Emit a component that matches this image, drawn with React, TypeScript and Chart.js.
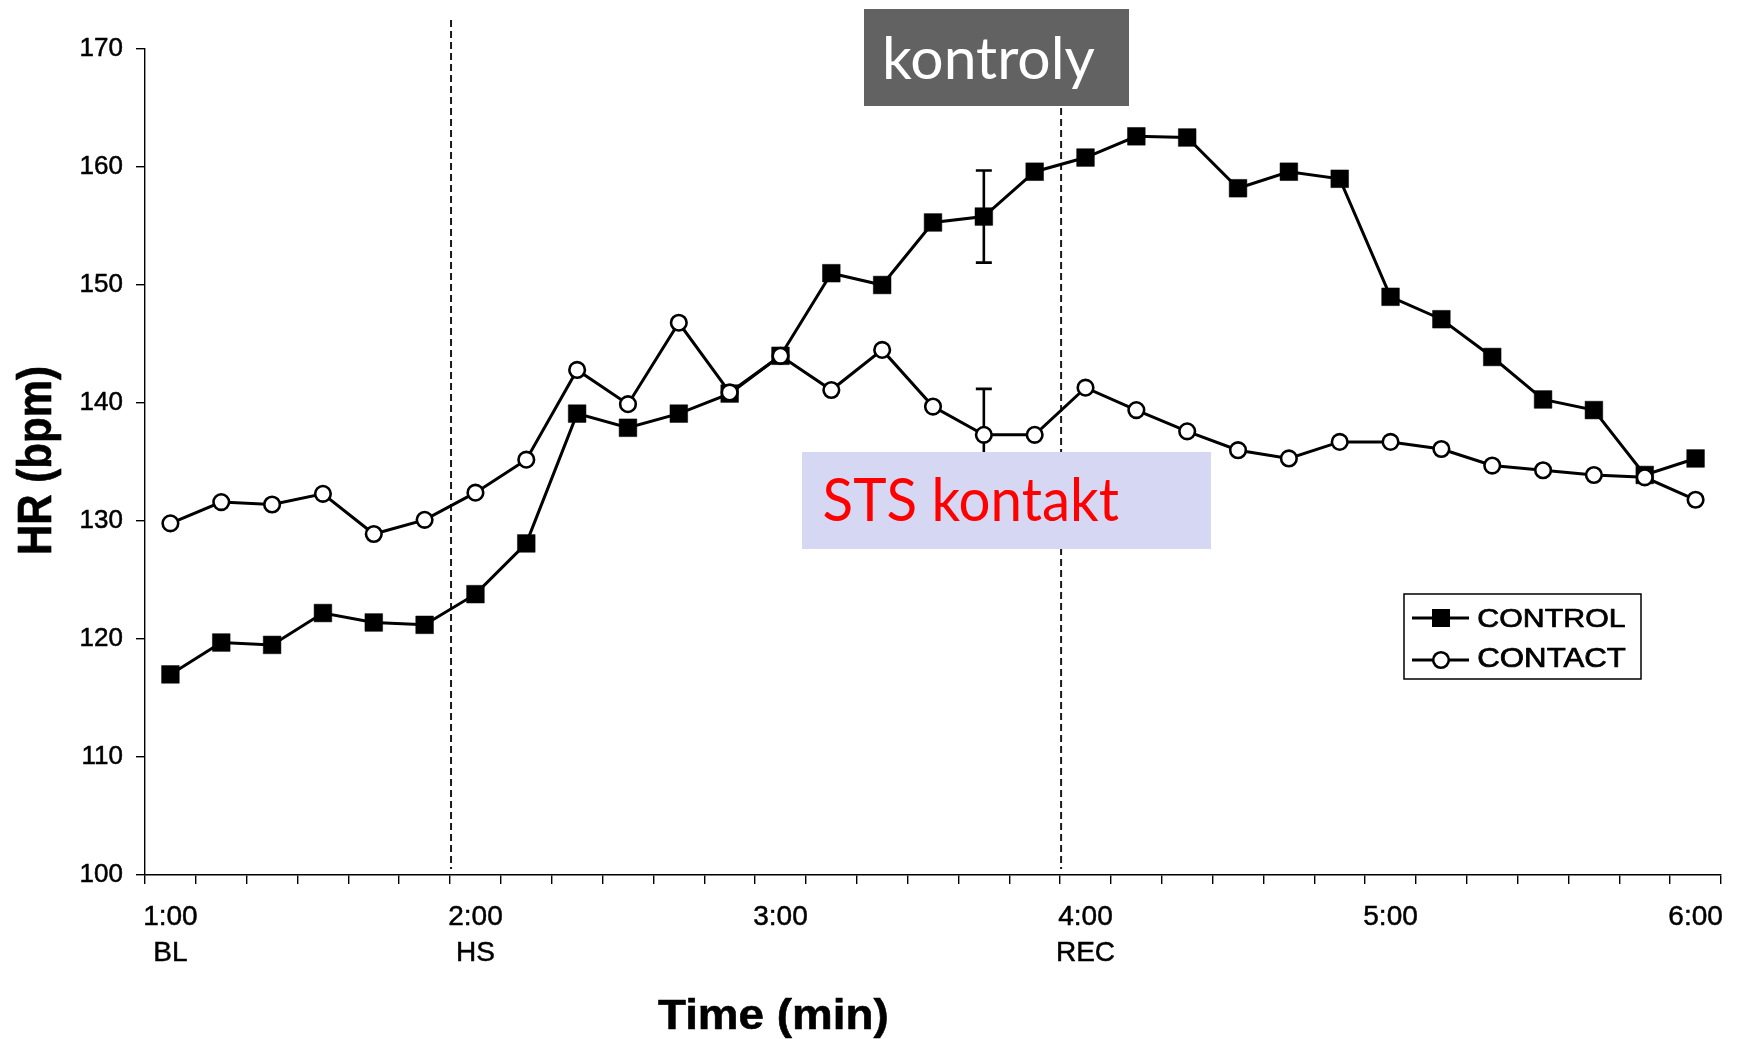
import React, { useEffect, useRef } from 'react';
import { Chart, registerables } from 'chart.js';

Chart.register(...registerables);

// ---------- data ----------
const categories = [
  '1:00', '1:10', '1:20', '1:30', '1:40', '1:50',
  '2:00', '2:10', '2:20', '2:30', '2:40', '2:50',
  '3:00', '3:10', '3:20', '3:30', '3:40', '3:50',
  '4:00', '4:10', '4:20', '4:30', '4:40', '4:50',
  '5:00', '5:10', '5:20', '5:30', '5:40', '5:50',
  '6:00',
];

const controlHR = [
  117.0, 119.7, 119.5, 122.2, 121.4, 121.2,
  123.8, 128.1, 139.1, 137.9, 139.1, 140.8,
  144.0, 151.0, 150.0, 155.3, 155.8, 159.6,
  160.8, 162.6, 162.5, 158.2, 159.6, 159.0,
  149.0, 147.1, 143.9, 140.3, 139.4, 133.9,
  135.3,
];

const contactHR = [
  129.8, 131.6, 131.4, 132.3, 128.9, 130.1,
  132.4, 135.2, 142.8, 139.9, 146.8, 140.9,
  144.0, 141.1, 144.5, 139.7, 137.3, 137.3,
  141.3, 139.4, 137.6, 136.0, 135.3, 136.7,
  136.7, 136.1, 134.7, 134.3, 133.9, 133.7,
  131.8,
];

const seriesNames = ['CONTROL', 'CONTACT'];
const majorTickLabels = ['1:00', '2:00', '3:00', '4:00', '5:00', '6:00'];
const phaseLabels = ['BL', 'HS', '', 'REC', '', ''];
const phaseBoundaries = ['2:00', '4:00'];
const errorCategory = '3:40';
const controlSEM = 3.9;
const contactSEM = 3.9;
const yMin = 100;
const yMax = 170;
const yStep = 10;
const xAxisTitle = 'Time (min)';
const yAxisTitle = 'HR (bpm)';
const topLabel = 'kontroly';
const middleLabel = 'STS kontakt';

// ---------- helpers ----------
function drawFittedText(
  ctx: CanvasRenderingContext2D,
  text: string,
  font: string,
  color: string,
  x: number,
  baseline: number,
  width: number,
  ascent: number,
  rotate = false,
  stroke = 0,
) {
  ctx.save();
  ctx.font = font;
  ctx.textAlign = 'left';
  ctx.textBaseline = 'alphabetic';
  const m = ctx.measureText(text);
  const inkW = m.actualBoundingBoxLeft + m.actualBoundingBoxRight;
  const sx = width / inkW;
  const sy = ascent / m.actualBoundingBoxAscent;
  ctx.translate(x, baseline);
  if (rotate) ctx.rotate(-Math.PI / 2);
  ctx.scale(sx, sy);
  ctx.fillStyle = color;
  ctx.fillText(text, m.actualBoundingBoxLeft, 0);
  if (stroke > 0) {
    ctx.strokeStyle = color;
    ctx.lineWidth = stroke;
    ctx.lineJoin = 'round';
    ctx.strokeText(text, m.actualBoundingBoxLeft, 0);
  }
  ctx.restore();
}

const figurePlugin = {
  id: 'figureExtras',
  beforeDatasetsDraw(chart: any) {
    const { ctx, scales } = chart;
    const x = scales.x;
    const y = scales.y;
    // dashed phase lines at category boundaries
    ctx.save();
    ctx.strokeStyle = '#1a1a1a';
    ctx.lineWidth = 2;
    ctx.setLineDash([7, 4]);
    phaseBoundaries.forEach((cat) => {
      const i = categories.indexOf(cat);
      const px = (x.getPixelForValue(i - 1) + x.getPixelForValue(i)) / 2 + 1;
      ctx.beginPath();
      ctx.moveTo(px, y.top - 29);
      ctx.lineTo(px, y.bottom - 6);
      ctx.stroke();
    });
    ctx.restore();

    // error bars
    const ei = categories.indexOf(errorCategory);
    const px = x.getPixelForValue(ei);
    const bars = [
      [controlHR[ei], controlSEM],
      [contactHR[ei], contactSEM],
    ];
    ctx.save();
    ctx.strokeStyle = '#000';
    ctx.lineWidth = 2.6;
    bars.forEach(([v, e]) => {
      const yt = y.getPixelForValue(v + e);
      const yb = y.getPixelForValue(v - e);
      ctx.beginPath();
      ctx.moveTo(px, yt);
      ctx.lineTo(px, yb);
      ctx.moveTo(px - 8, yt);
      ctx.lineTo(px + 8, yt);
      ctx.moveTo(px - 8, yb);
      ctx.lineTo(px + 8, yb);
      ctx.stroke();
    });
    ctx.restore();
  },
  afterDraw(chart: any) {
    const { ctx } = chart;
    const ds = chart.data.datasets;

    // legend
    ctx.save();
    ctx.strokeStyle = '#000';
    ctx.lineWidth = 1.5;
    ctx.fillStyle = '#fff';
    ctx.fillRect(1404, 594, 237, 85);
    ctx.strokeRect(1404, 594, 237, 85);
    const rows = [618, 660];
    ds.forEach((d: any, k: number) => {
      const ry = rows[k];
      ctx.strokeStyle = '#000';
      ctx.lineWidth = 2.8;
      ctx.setLineDash([]);
      ctx.beginPath();
      ctx.moveTo(1412, ry);
      ctx.lineTo(1469, ry);
      ctx.stroke();
      if (d.pointStyle === 'rect') {
        ctx.fillStyle = '#000';
        ctx.fillRect(1441 - 9, ry - 9, 18, 18);
      } else {
        ctx.fillStyle = '#fff';
        ctx.lineWidth = 2.6;
        ctx.beginPath();
        ctx.arc(1441, ry, 7.8, 0, Math.PI * 2);
        ctx.fill();
        ctx.stroke();
      }
    });
    ctx.restore();
    drawFittedText(ctx, ds[0].label, '30px "Liberation Sans", Arial, sans-serif', '#000', 1478.3, 626.7, 146.7, 17.7, false, 0.8);
    drawFittedText(ctx, ds[1].label, '30px "Liberation Sans", Arial, sans-serif', '#000', 1478.3, 666.7, 147.3, 18.2, false, 0.8);

    // axis titles
    drawFittedText(ctx, xAxisTitle, 'bold 45px "Liberation Sans", Arial, sans-serif', '#000', 658, 1028.5, 228.7, 30, false, 0.6);
    drawFittedText(ctx, yAxisTitle, 'bold 42px "Liberation Sans", Arial, sans-serif', '#000', 51, 553, 185, 35, true, 0.6);

    // annotation boxes
    ctx.save();
    ctx.fillStyle = '#626262';
    ctx.fillRect(864, 9, 265, 97);
    ctx.fillStyle = '#D5D7F3';
    ctx.fillRect(802, 452, 409, 97);
    ctx.restore();
    drawFittedText(ctx, topLabel, '60px Lato, "Open Sans", sans-serif', '#ffffff', 886, 79.3, 209, 42.6);
    drawFittedText(ctx, middleLabel, '60px Lato, "Open Sans", sans-serif', '#ff0000', 823.5, 521.4, 295, 43.5);
  },
};

export default function App() {
  const ref = useRef<HTMLCanvasElement>(null);

  useEffect(() => {
    if (!ref.current) return;
    const chart = new Chart(ref.current, {
      type: 'line',
      data: {
        labels: categories,
        datasets: [
          {
            label: seriesNames[0],
            data: controlHR,
            order: 1,
            borderColor: '#000',
            borderWidth: 3,
            tension: 0,
            pointStyle: 'rect',
            pointRadius: 12.5,
            pointBorderWidth: 0.5,
            pointBackgroundColor: '#000',
            pointBorderColor: '#000',
            fill: false,
          },
          {
            label: seriesNames[1],
            data: contactHR,
            order: 0,
            borderColor: '#000',
            borderWidth: 3,
            tension: 0,
            pointStyle: 'circle',
            pointRadius: 7.8,
            pointBorderWidth: 2.6,
            pointBackgroundColor: '#fff',
            pointBorderColor: '#000',
            fill: false,
          },
        ],
      },
      options: {
        responsive: false,
        animation: false,
        devicePixelRatio: 1,
        events: [],
        layout: { padding: { top: 49, right: 18, left: 0, bottom: 0 } },
        plugins: {
          legend: { display: false },
          tooltip: { enabled: false },
          title: { display: false },
        },
        scales: {
          x: {
            type: 'category',
            offset: true,
            grid: {
              offset: true,
              drawOnChartArea: false,
              drawTicks: true,
              tickLength: 9,
              color: '#000',
              lineWidth: 1.4,
            },
            border: { display: true, color: '#000', width: 1.4 },
            ticks: {
              autoSkip: false,
              maxRotation: 0,
              minRotation: 0,
              padding: 15,
              color: '#000',
              textStrokeColor: '#000',
              textStrokeWidth: 0.5,
              font: { family: '"Liberation Sans", Arial, sans-serif', size: 28, lineHeight: 1.3 },
              callback: (_v: any, i: number) => {
                const k = majorTickLabels.indexOf(categories[i]);
                if (k < 0) return '';
                return phaseLabels[k] ? [majorTickLabels[k], phaseLabels[k]] : majorTickLabels[k];
              },
            },
            afterFit: (s: any) => {
              s.height = 164;
              s.paddingLeft = 0;
              s.paddingRight = 0;
            },
          },
          y: {
            type: 'linear',
            min: yMin,
            max: yMax,
            grid: {
              drawOnChartArea: false,
              drawTicks: true,
              tickLength: 9,
              color: '#000',
              lineWidth: 1.4,
            },
            border: { display: true, color: '#000', width: 1.4 },
            ticks: {
              stepSize: yStep,
              padding: 13,
              color: '#000',
              textStrokeColor: '#000',
              textStrokeWidth: 0.5,
              font: { family: '"Liberation Sans", Arial, sans-serif', size: 26 },
            },
            afterFit: (s: any) => {
              s.width = 145;
              s.paddingTop = 0;
              s.paddingBottom = 0;
            },
          },
        },
      },
      plugins: [figurePlugin],
    } as any);
    return () => chart.destroy();
  }, []);

  return (
    <div style={{ position: 'fixed', left: 0, top: 0, width: 1739, height: 1039, background: '#fff' }}>
      <canvas ref={ref} width={1739} height={1039} style={{ display: 'block', width: 1739, height: 1039 }} />
    </div>
  );
}
